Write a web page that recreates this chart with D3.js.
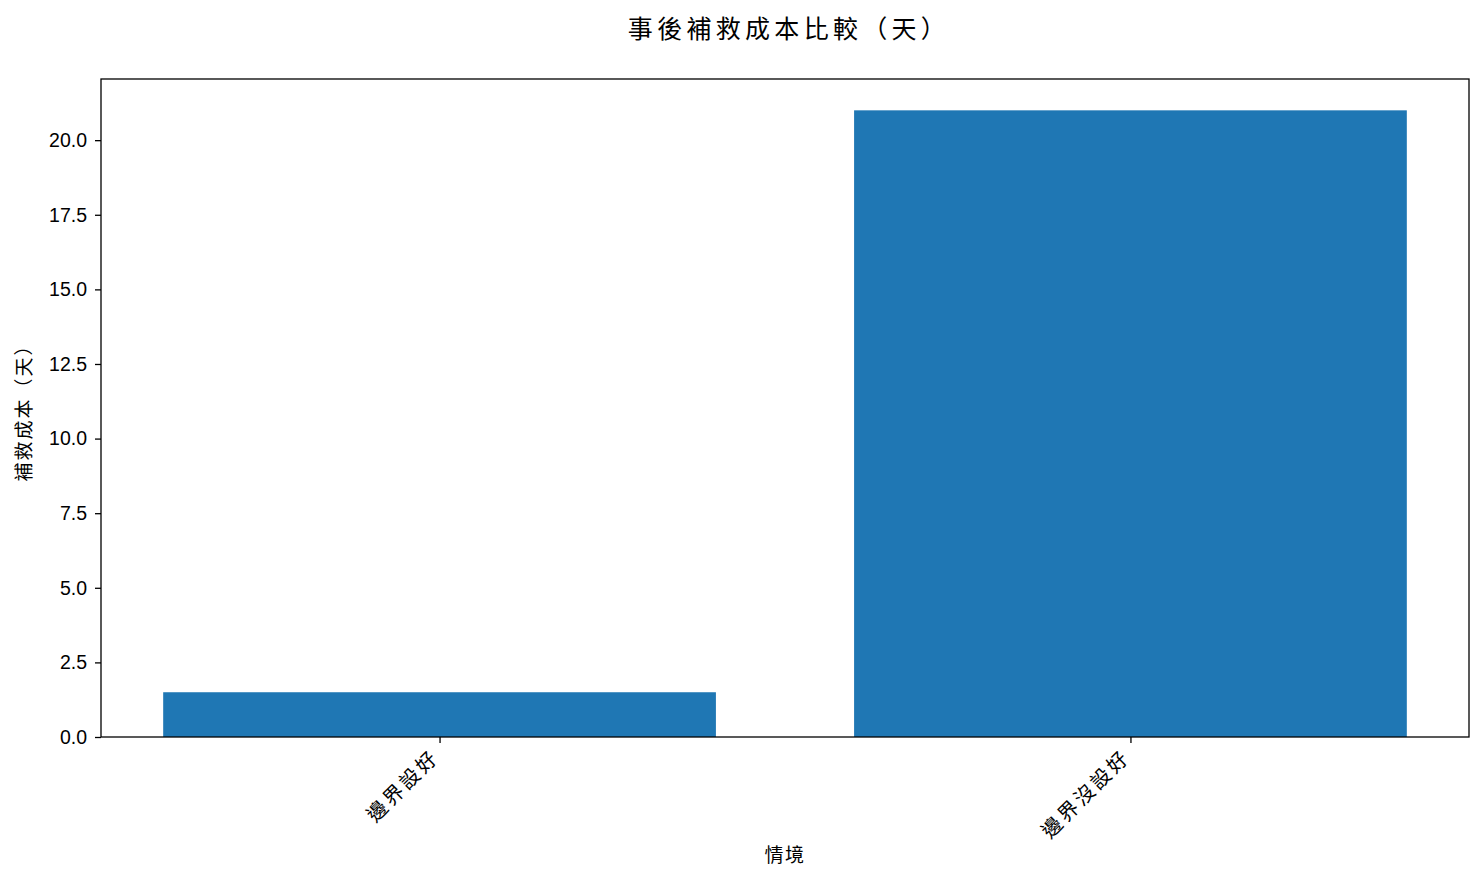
<!DOCTYPE html>
<html>
<head>
<meta charset="utf-8">
<script src="https://cdn.jsdelivr.net/npm/d3@7"></script>
<style>
  body { margin: 0; background: #fff; }
  text { font-family: "Liberation Sans", Arial, "Noto Sans CJK TC", sans-serif; fill: #000; }
  .cjk { font-family: "Noto Sans CJK TC", "Liberation Sans", sans-serif; }
</style>
</head>
<body>
<div id="chart"></div>
<script>
const categories = ['邊界設好', '邊界沒設好'];
const costDays = [1.5, 21];
const yTicks = [0, 2.5, 5, 7.5, 10, 12.5, 15, 17.5, 20];

const width = 1484;
const height = 881;
const margins = { top: 79, right: 15, bottom: 144, left: 101 };
const plotW = width - margins.left - margins.right;
const plotH = height - margins.top - margins.bottom;

const svg = d3.select('#chart').append('svg')
  .attr('width', width)
  .attr('height', height);

// bars of width 0.8 at 0..n-1, 5% margin each side
const barW = 0.8;
const xMin = -barW / 2;
const xMax = categories.length - 1 + barW / 2;
const pad = (xMax - xMin) * 0.05;
const xScale = d3.scaleLinear()
  .domain([xMin - pad, xMax + pad])
  .range([0, plotW]);

const yScale = d3.scaleLinear()
  .domain([0, d3.max(costDays) * 1.05])
  .range([plotH, 0]);

const g = svg.append('g')
  .attr('transform', `translate(${margins.left},${margins.top})`);

g.selectAll('rect.bar')
  .data(costDays)
  .enter()
  .append('rect')
  .attr('class', 'bar')
  .attr('x', (d, i) => xScale(i - barW / 2))
  .attr('width', (d, i) => xScale(i + barW / 2) - xScale(i - barW / 2))
  .attr('y', (d) => yScale(d))
  .attr('height', (d) => plotH - yScale(d))
  .style('fill', '#1f77b4');

// y axis
const yAxis = d3.axisLeft(yScale)
  .tickValues(yTicks)
  .tickFormat(d3.format('.1f'))
  .tickSize(6)
  .tickPadding(8);

const yG = g.append('g').call(yAxis);
yG.select('.domain').remove();
yG.selectAll('.tick line').style('stroke', '#000').style('stroke-width', 1.3);
yG.selectAll('.tick text')
  .style('font-size', '19.5px')
  .style('font-family', '"Liberation Sans", Arial, sans-serif');

// x axis
const xAxis = d3.axisBottom(xScale)
  .tickValues(d3.range(categories.length))
  .tickFormat((i) => categories[i])
  .tickSize(6)
  .tickPadding(6);

const xG = g.append('g')
  .attr('transform', `translate(0,${plotH})`)
  .call(xAxis);
xG.select('.domain').remove();
xG.selectAll('.tick line').style('stroke', '#000').style('stroke-width', 1.3);
xG.selectAll('.tick text')
  .attr('class', 'cjk')
  .style('font-size', '20px')
  .style('letter-spacing', '3px')
  .attr('y', 0)
  .attr('dy', 0)
  .style('text-anchor', 'end')
  .style('dominant-baseline', 'hanging')
  .attr('transform', 'rotate(-45)');

// move each rotated label so its glyphs sit under the tick, ending just left of it
const svgBox = svg.node().getBoundingClientRect();
xG.selectAll('.tick').each(function (i) {
  const txt = d3.select(this).select('text');
  const box = txt.node().getBoundingClientRect();
  const tickX = svgBox.left + margins.left + xScale(i) + 5;
  const targetTop = svgBox.top + margins.top + plotH + 5;
  const dx = tickX - box.right;
  const dy = targetTop - box.top;
  txt.attr('transform', `translate(${dx},${dy}) rotate(-45)`);
});

// frame
g.append('rect')
  .attr('width', plotW)
  .attr('height', plotH)
  .style('fill', 'none')
  .style('stroke', '#000')
  .style('stroke-width', 1.3);

// title
svg.append('text')
  .attr('class', 'cjk')
  .attr('x', margins.left + plotW / 2 + 4)
  .attr('y', 38)
  .style('text-anchor', 'middle')
  .style('font-size', '25px')
  .style('letter-spacing', '4.3px')
  .text('事後補救成本比較（天）');

// x label
svg.append('text')
  .attr('class', 'cjk')
  .attr('x', margins.left + plotW / 2)
  .attr('y', 862)
  .style('text-anchor', 'middle')
  .style('font-size', '19px')
  .style('letter-spacing', '1.5px')
  .text('情境');

// y label
svg.append('text')
  .attr('class', 'cjk')
  .attr('transform', `translate(31,${margins.top + plotH / 2}) rotate(-90)`)
  .style('text-anchor', 'middle')
  .style('font-size', '19px')
  .style('letter-spacing', '2px')
  .text('補救成本（天）');
</script>
</body>
</html>
